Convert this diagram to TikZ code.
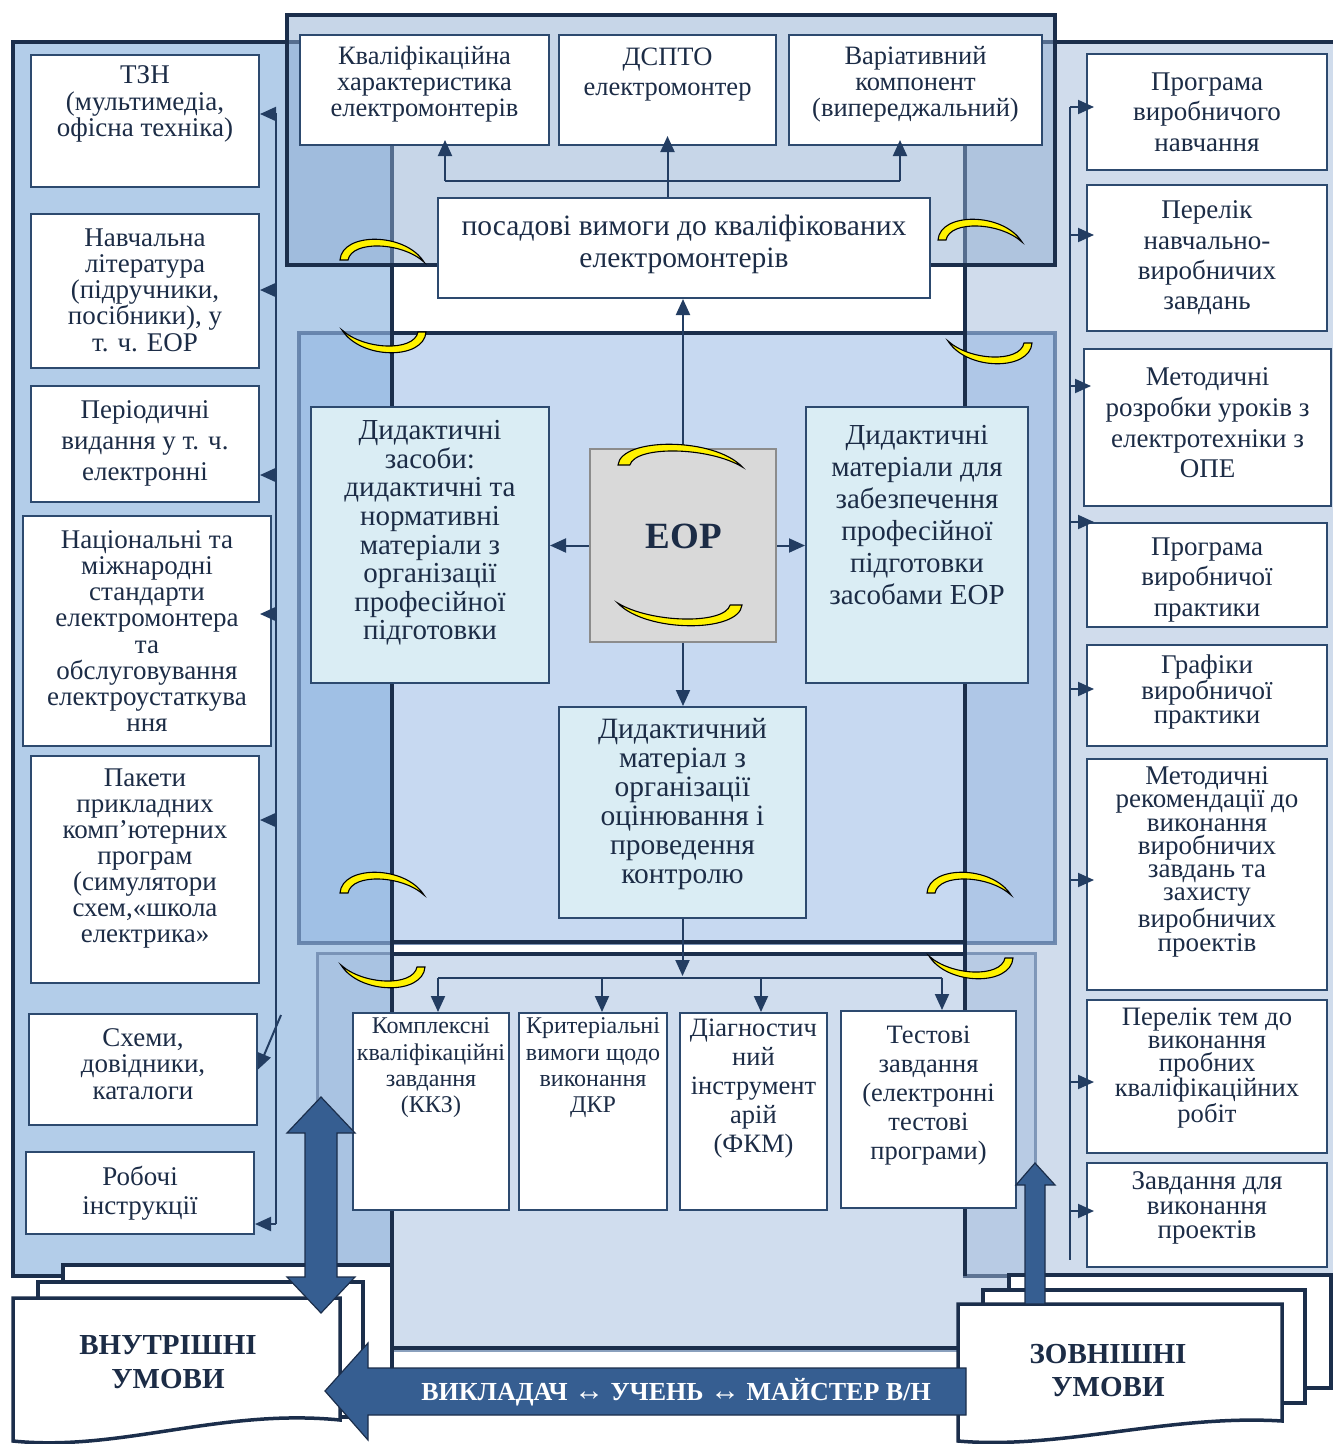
\documentclass[tikz,border=0pt]{standalone}
\usepackage{fontspec}
\setmainfont{Liberation Serif}
\usetikzlibrary{arrows.meta,calc}

\definecolor{ink}{HTML}{1C2C46}
\definecolor{navy}{HTML}{1B2E4B}
\definecolor{edge}{HTML}{2D4A6F}
\definecolor{lpanel}{HTML}{B3CDE9}
\definecolor{rpanel}{HTML}{D0DCEC}
\definecolor{toptint}{HTML}{8FADD2}
\definecolor{midtint}{HTML}{8FB4E3}
\definecolor{bottint}{HTML}{A1BBDD}
\definecolor{midedge}{HTML}{5876A0}
\definecolor{botedge}{HTML}{6D88AD}
\definecolor{paleblue}{HTML}{DAEDF4}
\definecolor{eopgrey}{HTML}{D9D9D9}
\definecolor{eopedge}{HTML}{8C8C8C}
\definecolor{bigarrow}{HTML}{365E91}
\definecolor{arrowink}{HTML}{233D62}

\tikzset{
  wbox/.style={draw=edge, line width=2pt, fill=white, inner sep=0pt},
  pbox/.style={wbox, fill=paleblue},
  txt/.style={text=ink, align=center, inner sep=0pt},
  fs/.style 2 args={font=\fontsize{#1}{#2}\selectfont},
  bfs/.style 2 args={font=\bfseries\fontsize{#1}{#2}\selectfont},
  arr/.style={draw=arrowink, line width=2pt, -{Triangle[length=16pt,width=14pt]}},
  busline/.style={draw=arrowink, line width=2pt},
  frame/.style={draw=navy, line width=3.5pt},
  doc/.style={fill=white, draw=navy, line width=3.5pt, line join=miter},
  fatarrow/.style={fill=bigarrow, draw=navy, line width=1.2pt},
  crescent/.style={fill=yellow, draw=black, line width=1.1pt},
  arcup/.pic={\path[crescent] (0,0) .. controls (2,-28) and (65,-28) .. (84,2)
      .. controls (62,-18) and (12,-20) .. (8,0) -- cycle;}
}

\begin{document}
\begin{tikzpicture}[x=1pt,y=-1pt]
\useasboundingbox (0,0) rectangle (1333,1444);

% side panels
\path[fill=lpanel, draw=navy, line width=4pt] (13,42) rectangle (392,1276);
\path[fill=rpanel, draw=navy, line width=4pt] (965,42) rectangle (1345,1276);

% translucent central panels
\path[fill=toptint, fill opacity=.5, draw=navy, line width=3.5pt] (287,15) rectangle (1055,265);
\path[fill=midtint, fill opacity=.5, draw=midedge, draw opacity=.8, line width=3.5pt] (299,333) rectangle (1055,943);
\path[fill=bottint, fill opacity=.5, draw=botedge, draw opacity=.8, line width=3pt] (317,953) rectangle (1035,1350);

% edges of the central column
\draw[frame] (392,265) -- (392,1348);
\draw[frame] (965,265) -- (965,1276);
\draw[frame] (392,333) -- (965,333);
\draw[frame] (392,942) -- (965,942);
\draw[frame] (392,954) -- (965,954);
\draw[frame] (392,1348) -- (965,1348);

% ---------- left column: resources ----------
\node[wbox, minimum width=228pt, minimum height=132pt] (tzn) at (145,121) {};
\node[txt, fs={27}{26.5}] (tznT) at (145,104) {ТЗН\\(мультимедіа,\\офісна техніка)};
\node[wbox, minimum width=228pt, minimum height=154pt] (nav) at (145,291) {};
\node[txt, fs={27}{26.3}] (navT) at (145,290) {Навчальна\\література\\(підручники,\\посібники), у\\т. ч. ЕОР};
\node[wbox, minimum width=228pt, minimum height=116pt] (per) at (145,444) {};
\node[txt, fs={27}{31}] (perT) at (145,443) {Періодичні\\видання у т. ч.\\електронні};
\node[wbox, minimum width=248pt, minimum height=230pt] (nat) at (147,631) {};
\node[txt, fs={27}{26.1}] (natT) at (147,631) {Національні та\\міжнародні\\стандарти\\електромонтера\\та\\обслуговування\\електроустаткува\\ння};
\node[wbox, minimum width=228pt, minimum height=227pt] (pak) at (145,869.5) {};
\node[txt, fs={27}{26}] (pakT) at (145,859) {Пакети\\прикладних\\комп’ютерних\\програм\\(симулятори\\схем,«школа\\електрика»};
\node[wbox, minimum width=228pt, minimum height=111pt] (sch) at (143,1069.5) {};
\node[txt, fs={27}{26.5}] (schT) at (143,1064) {Схеми,\\довідники,\\каталоги};
\node[wbox, minimum width=228pt, minimum height=82pt] (rob) at (140,1193) {};
\node[txt, fs={27}{29}] (robT) at (140,1193) {Робочі\\інструкції};

% ---------- right column: documents ----------
\node[wbox, minimum width=240pt, minimum height=116pt] (r1) at (1207,112) {};
\node[txt, fs={27}{30.5}] (r1T) at (1207,112) {Програма\\виробничого\\навчання};
\node[wbox, minimum width=240pt, minimum height=146pt] (r2) at (1207,258) {};
\node[txt, fs={27}{30.3}] (r2T) at (1207,258) {Перелік\\навчально-\\виробничих\\завдань};
\node[wbox, minimum width=247pt, minimum height=157pt] (r3) at (1207.5,427.5) {};
\node[txt, fs={27}{30.7}] (r3T) at (1207.5,423) {Методичні\\розробки уроків з\\електротехніки з\\ОПЕ};
\node[wbox, minimum width=240pt, minimum height=104pt] (r4) at (1207,575) {};
\node[txt, fs={27}{30.5}] (r4T) at (1207,580) {Програма\\виробничої\\практики};
\node[wbox, minimum width=240pt, minimum height=101pt] (r5) at (1207,695.5) {};
\node[txt, fs={27}{24}] (r5T) at (1207,692) {Графіки\\виробничої\\практики};
\node[wbox, minimum width=240pt, minimum height=231pt] (r6) at (1207,874.5) {};
\node[txt, fs={27}{23.3}] (r6T) at (1207,862) {Методичні\\рекомендації до\\виконання\\виробничих\\завдань та\\захисту\\виробничих\\проектів};
\node[wbox, minimum width=240pt, minimum height=153pt] (r7) at (1207,1076.5) {};
\node[txt, fs={26.6}{22.8}] (r7T) at (1207,1068) {Перелік тем до\\виконання\\пробних\\кваліфікаційних\\робіт};
\node[wbox, minimum width=240pt, minimum height=104pt] (r8) at (1207,1215) {};
\node[txt, fs={27}{24.5}] (r8T) at (1207,1208) {Завдання для\\виконання\\проектів};

% ---------- top block ----------
\node[wbox, minimum width=249pt, minimum height=110pt] (kval) at (424.5,90) {};
\node[txt, fs={26.5}{26}] (kvalT) at (424.5,84) {Кваліфікаційна\\характеристика\\електромонтерів};
\node[wbox, minimum width=217pt, minimum height=110pt] (dspto) at (667.5,90) {};
\node[txt, fs={26.5}{30}] (dsptoT) at (667.5,75) {ДСПТО\\електромонтер};
\node[wbox, minimum width=253pt, minimum height=110pt] (var) at (915.5,90) {};
\node[txt, fs={26.5}{26}] (varT) at (915.5,84) {Варіативний\\компонент\\(випереджальний)};
\node[wbox, minimum width=492pt, minimum height=100pt] (posad) at (684,248) {};
\node[txt, fs={29.5}{32}] (posadT) at (684,244) {посадові вимоги до кваліфікованих\\електромонтерів};

% ---------- middle block ----------
\node[pbox, minimum width=238pt, minimum height=276pt] (dz) at (430,545) {};
\node[txt, fs={29}{28.6}] (dzT) at (430,533) {Дидактичні\\засоби:\\дидактичні та\\нормативні\\матеріали з\\організації\\професійної\\підготовки};
\node[draw=eopedge, fill=eopgrey, line width=2.5pt, minimum width=186pt, minimum height=193pt] (eop) at (683,545.5) {};
\node[txt, bfs={37}{37}] (eopT) at (684,536) {ЕОР};
\node[pbox, minimum width=222pt, minimum height=276pt] (dm) at (917,545) {};
\node[txt, fs={29}{32}] (dmT) at (917,515) {Дидактичні\\матеріали для\\забезпечення\\професійної\\підготовки\\засобами ЕОР};
\node[pbox, minimum width=247pt, minimum height=211pt] (ctrl) at (682.5,812.5) {};
\node[txt, fs={29.5}{29}] (ctrlT) at (682.5,804) {Дидактичний\\матеріал з\\організації\\оцінювання і\\проведення\\контролю};

% ---------- bottom block ----------
\node[wbox, minimum width=156pt, minimum height=197pt] (kkz) at (431,1111.5) {};
\node[txt, fs={24}{26.3}] (kkzT) at (431,1068) {Комплексні\\кваліфікаційні\\завдання\\(ККЗ)};
\node[wbox, minimum width=148pt, minimum height=197pt] (krit) at (593,1111.5) {};
\node[txt, fs={24}{26.3}] (kritT) at (593,1068) {Критеріальні\\вимоги щодо\\виконання\\ДКР};
\node[wbox, minimum width=147pt, minimum height=197pt] (diag) at (753.5,1111.5) {};
\node[txt, fs={26.5}{29}] (diagT) at (753.5,1089) {Діагностич\\ний\\інструмент\\арій\\(ФКМ)};
\node[wbox, minimum width=175pt, minimum height=197pt] (test) at (928.5,1109.5) {};
\node[txt, fs={26.5}{29}] (testT) at (928.5,1096) {Тестові\\завдання\\(електронні\\тестові\\програми)};

% ---------- connectors: left bus ----------
\coordinate (lb1) at (276,114);
\coordinate (lb2) at (276,290);
\coordinate (lb3) at (276,475);
\coordinate (lb4) at (276,614);
\coordinate (lb5) at (276,820);
\coordinate (lb6) at (276,1224);
\coordinate (ldiag) at (281,1015);
\draw[busline] (lb1) -- (lb6);
\draw[arr] (lb1) -- (lb1 -| tzn.east);
\draw[arr] (lb2) -- (lb2 -| nav.east);
\draw[arr] (lb3) -- (lb3 -| per.east);
\draw[arr, shorten >=-12pt] (lb4) -- (lb4 -| nat.east);
\draw[arr] (lb5) -- (lb5 -| pak.east);
\draw[arr] (lb6) -- (lb6 -| rob.east);
\draw[arr] (ldiag) -- (sch.east);

% ---------- connectors: right bus ----------
\coordinate (rb0) at (1070,1260);
\coordinate (rb1) at (1070,107);
\coordinate (rb2) at (1070,235);
\coordinate (rb3) at (1070,386);
\coordinate (rb4) at (1070,522);
\coordinate (rb5) at (1070,689);
\coordinate (rb6) at (1070,880);
\coordinate (rb7) at (1070,1082);
\coordinate (rb8) at (1070,1211);
\draw[busline] (rb1) -- (rb0);
\foreach \k in {1,...,8}{
  \draw[arr, shorten >=-8pt] (rb\k) -- (rb\k -| r\k.west);
}

% ---------- connectors: top block ----------
\coordinate (tl) at (445,181);
\coordinate (tr) at (900,181);
\draw[busline] (tl) -- (tr);
\draw[arr, shorten >=-10pt] (dspto.south |- posad.north) -- (dspto.south);
\draw[arr, shorten >=-6pt] (tl) -- (tl |- kval.south);
\draw[arr, shorten >=-6pt] (tr) -- (tr |- var.south);

% ---------- connectors: middle block ----------
\draw[arr] (eop.north) -- (eop.north |- posad.south);
\draw[arr] (eop.west) -- (eop.west -| dz.east);
\draw[arr] (eop.east) -- (eop.east -| dm.west);
\draw[arr] (eop.south) -- (eop.south |- ctrl.north);

% ---------- connectors: bottom block ----------
\coordinate (dsplit) at (681,976);
\coordinate (d1) at (438,978);
\coordinate (d2) at (602,978);
\coordinate (d3) at (761,978);
\coordinate (d4) at (942,978);
\draw[arr] (ctrl.south) -- (ctrl.south |- dsplit);
\draw[busline] (d1) -- (d4);
\draw[arr] (d1) -- (d1 |- kkz.north);
\draw[arr] (d2) -- (d2 |- krit.north);
\draw[arr] (d3) -- (d3 |- diag.north);
\draw[arr] (d4) -- (d4 |- test.north);

% ---------- internal conditions (stacked documents) ----------
\path[doc] (63,1265) rectangle (392,1400);
\path[doc] (38,1282) rectangle (363,1417);
\path[doc] (13,1298) -- (340,1298) -- (340,1420)
  .. controls (220,1408) and (120,1452) .. (13,1441) -- cycle;
\node[txt, bfs={29}{34}] (inner) at (168,1362) {ВНУТРІШНІ\\УМОВИ};

% ---------- external conditions (stacked documents) ----------
\path[doc] (1009,1275) rectangle (1331,1388);
\path[doc] (983,1290) rectangle (1305,1403);
\path[doc] (958,1304) -- (1282,1304) -- (1282,1421)
  .. controls (1170,1414) and (1060,1450) .. (958,1441) -- cycle;
\node[txt, bfs={29}{33}] (outer) at (1108,1371) {ЗОВНІШНІ\\УМОВИ};

% ---------- broad arrows ----------
\path[fatarrow] (321,1097) -- (355,1133) -- (337,1133) -- (337,1277) -- (355,1277)
  -- (321,1313) -- (287,1277) -- (305,1277) -- (305,1133) -- (287,1133) -- cycle;
\path[fatarrow] (1035,1163) -- (1055,1185) -- (1045,1185) -- (1045,1304)
  -- (1025,1304) -- (1025,1185) -- (1016,1185) -- cycle;
\path[fatarrow] (325,1391) -- (368,1343) -- (368,1368) -- (966,1368) -- (966,1415)
  -- (368,1415) -- (368,1440) -- cycle;
\node[bfs={26}{26}, text=white, inner sep=0pt] (band) at (676,1392) {ВИКЛАДАЧ {\fontsize{30}{30}\selectfont↔} УЧЕНЬ {\fontsize{30}{30}\selectfont↔} МАЙСТЕР В/Н};

% ---------- circular arrows ----------
\pic at (340,260) {arcup};
\pic at (938,240) {arcup};
\pic[xscale=1.48] at (618,465) {arcup};
\pic at (340,893) {arcup};
\pic at (927,893) {arcup};
\pic[rotate=180] at (426,332) {arcup};
\pic[rotate=180] at (1032,343) {arcup};
\pic[rotate=180, xscale=1.48] at (742,605) {arcup};
\pic[rotate=180] at (425,967) {arcup};
\pic[rotate=180] at (1013,958) {arcup};

\end{tikzpicture}
\end{document}
